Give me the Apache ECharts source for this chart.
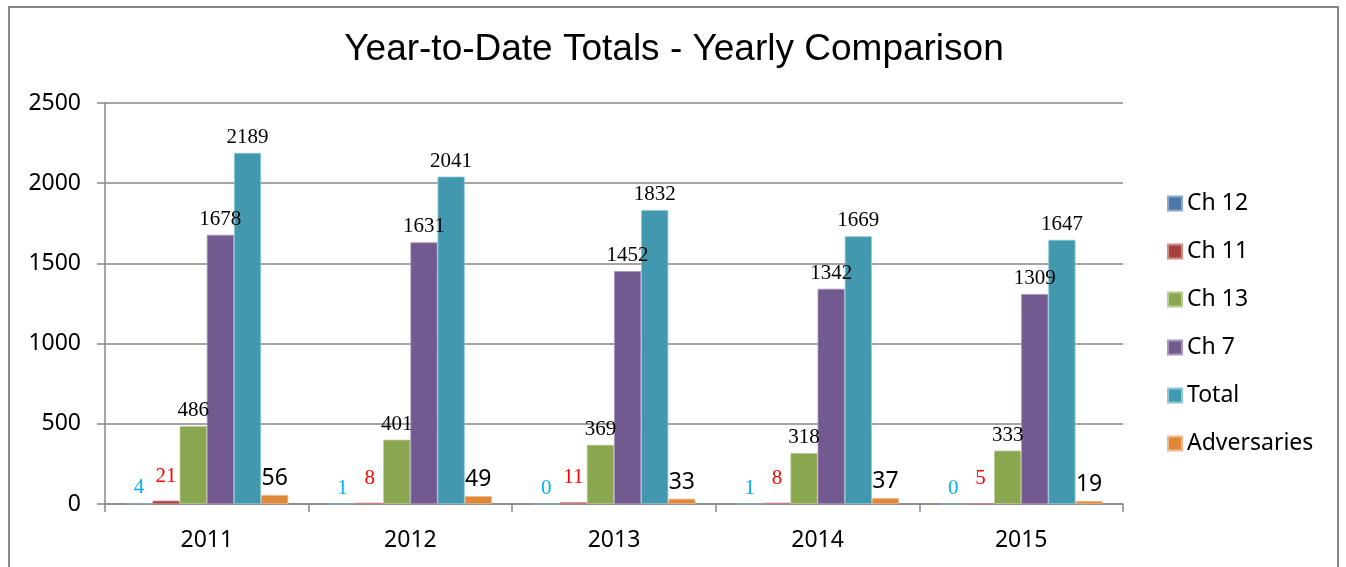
<!DOCTYPE html>
<html>
<head>
<meta charset="utf-8">
<script src="https://cdn.jsdelivr.net/npm/echarts@6/dist/echarts.min.js"></script>
<style>html,body{margin:0;padding:0;background:#fff;}#c{width:1346px;height:567px;}</style>
</head>
<body>
<div id="c"></div>
<script>
var categories = ['2011', '2012', '2013', '2014', '2015'];
var seriesNames = ['Ch 12', 'Ch 11', 'Ch 13', 'Ch 7', 'Total', 'Adversaries'];
var ch12 = [4, 1, 0, 1, 0];
var ch11 = [21, 8, 11, 8, 5];
var ch13 = [486, 401, 369, 318, 333];
var ch7 = [1678, 1631, 1452, 1342, 1309];
var total = [2189, 2041, 1832, 1669, 1647];
var adversaries = [56, 49, 33, 37, 19];
var yTicks = [0, 500, 1000, 1500, 2000, 2500];

var colors = ['#4a76a8', '#a5423f', '#8aa64e', '#72598f', '#4198af', '#e0883a'];
var borders = ['#8aa9cc', '#d08a88', '#b8cc94', '#a795bd', '#8cc8d8', '#f0b88a'];
var serif = '"Liberation Serif", "DejaVu Serif", serif';
var sans = '"Noto Sans", "Open Sans", sans-serif';
var labelStyles = [
  {color: '#00b0f0', fontFamily: serif, fontSize: 21, distance: 5},
  {color: '#ff0000', fontFamily: serif, fontSize: 21, distance: 14},
  {color: '#000', fontFamily: serif, fontSize: 21, distance: 5},
  {color: '#000', fontFamily: serif, fontSize: 21, distance: 5},
  {color: '#000', fontFamily: serif, fontSize: 21, distance: 5},
  {color: '#000', fontFamily: sans, fontSize: 23, distance: 5}
];
var dataSets = [ch12, ch11, ch13, ch7, total, adversaries];

var series = dataSets.map(function (d, i) {
  var ls = labelStyles[i];
  return {
    name: seriesNames[i],
    type: 'bar',
    data: d,
    barGap: '0%',
    barCategoryGap: '20%',
    itemStyle: {color: colors[i], borderColor: borders[i], borderWidth: 0.8},
    label: {
      show: true,
      position: 'top',
      distance: ls.distance,
      color: ls.color,
      fontFamily: ls.fontFamily,
      fontSize: ls.fontSize
    }
  };
});

var chart = echarts.init(document.getElementById('c'));
chart.setOption({
  animation: false,
  color: colors,
  title: {
    text: 'Year-to-Date Totals - Yearly Comparison',
    left: 674,
    textAlign: 'center',
    top: 31,
    padding: 0,
    textStyle: {fontFamily: '"Liberation Sans", Arial, sans-serif', fontSize: 37, fontWeight: 'normal', color: '#000'}
  },
  graphic: [{
    type: 'rect',
    shape: {x: 9, y: 7, width: 1329, height: 600},
    style: {fill: 'none', stroke: '#878787', lineWidth: 2},
    silent: true,
    z: -1
  }],
  legend: {
    orient: 'vertical',
    left: 1167,
    top: 192,
    padding: 0,
    itemWidth: 14,
    itemHeight: 14,
    itemGap: 25,
    icon: 'rect',
    data: seriesNames,
    textStyle: {fontFamily: sans, fontSize: 23, color: '#000', lineHeight: 23}
  },
  grid: {left: 105, right: 223, top: 103, bottom: 63, containLabel: false},
  xAxis: {
    type: 'category',
    data: categories,
    axisLine: {lineStyle: {color: '#868686', width: 1.5}},
    axisTick: {show: true, length: 8, lineStyle: {color: '#868686', width: 1.5}},
    axisLabel: {fontFamily: sans, fontSize: 23, color: '#000', margin: 25}
  },
  yAxis: {
    type: 'value',
    min: yTicks[0],
    max: yTicks[yTicks.length - 1],
    interval: yTicks[1] - yTicks[0],
    axisLine: {show: true, lineStyle: {color: '#868686', width: 1.5}},
    axisTick: {show: true, length: 8, lineStyle: {color: '#868686', width: 1.5}},
    splitLine: {lineStyle: {color: '#868686', width: 1.5}},
    axisLabel: {fontFamily: sans, fontSize: 23, color: '#000', margin: 24, formatter: function (v) { return String(v); }}
  },
  series: series
});
</script>
</body>
</html>
